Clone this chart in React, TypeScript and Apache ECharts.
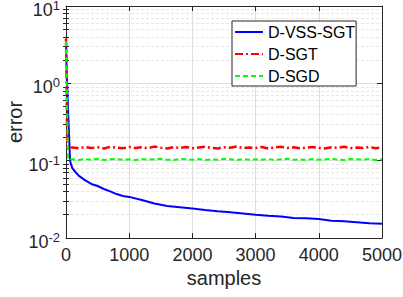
import React, { useEffect, useRef } from "react";
import * as echarts from "echarts";

const seriesNames = ["D-VSS-SGT", "D-SGT", "D-SGD"];

const blueX = [0, 10, 30, 50, 60, 70, 100, 150, 200, 300, 400, 500, 600, 700, 800, 900, 1000, 1200, 1400, 1600, 1800, 2000, 2200, 2400, 2600, 2800, 3000, 3200, 3400, 3600, 3800, 4000, 4200, 4400, 4600, 4800, 5000];
const blueY = [3.6, 1.5, 0.5, 0.2, 0.12, 0.095, 0.08, 0.071, 0.064, 0.056, 0.05, 0.047, 0.043, 0.04, 0.037, 0.035, 0.034, 0.031, 0.028, 0.026, 0.025, 0.024, 0.023, 0.0222, 0.0215, 0.0208, 0.02, 0.0194, 0.019, 0.0182, 0.018, 0.0176, 0.0167, 0.0165, 0.016, 0.0155, 0.0153];

const tailX = [100, 200, 300, 400, 500, 600, 700, 800, 900, 1000, 1100, 1200, 1300, 1400, 1500, 1600, 1700, 1800, 1900, 2000, 2100, 2200, 2300, 2400, 2500, 2600, 2700, 2800, 2900, 3000, 3100, 3200, 3300, 3400, 3500, 3600, 3700, 3800, 3900, 4000, 4100, 4200, 4300, 4400, 4500, 4600, 4700, 4800, 4900, 5000];

const redHeadX = [0, 5, 12, 20, 50];
const redHeadY = [3.8, 2.0, 0.6, 0.15, 0.147];
const redTailY = [
  0.148, 0.145, 0.15, 0.146, 0.149, 0.144, 0.151, 0.147, 0.145, 0.15,
  0.146, 0.149, 0.145, 0.152, 0.147, 0.144, 0.149, 0.146, 0.15, 0.145,
  0.148, 0.151, 0.146, 0.144, 0.149, 0.147, 0.152, 0.145, 0.148, 0.146,
  0.15, 0.144, 0.148, 0.151, 0.146, 0.149, 0.145, 0.147, 0.15, 0.146,
  0.144, 0.149, 0.147, 0.151, 0.145, 0.148, 0.146, 0.15, 0.145, 0.148,
];

const greenHeadX = [0, 8, 20, 30, 50];
const greenHeadY = [3.5, 1.5, 0.4, 0.105, 0.104];
const greenTailY = [
  0.104, 0.102, 0.105, 0.103, 0.106, 0.102, 0.104, 0.105, 0.103, 0.104,
  0.102, 0.105, 0.103, 0.104, 0.106, 0.103, 0.102, 0.105, 0.104, 0.103,
  0.105, 0.102, 0.104, 0.103, 0.106, 0.104, 0.102, 0.105, 0.103, 0.104,
  0.103, 0.105, 0.102, 0.104, 0.106, 0.103, 0.104, 0.102, 0.105, 0.103,
  0.104, 0.106, 0.103, 0.102, 0.105, 0.104, 0.103, 0.105, 0.102, 0.104,
];

const yMinor = [0.02, 0.03, 0.04, 0.05, 0.06, 0.07, 0.08, 0.09, 0.2, 0.3, 0.4, 0.5, 0.6, 0.7, 0.8, 0.9, 2, 3, 4, 5, 6, 7, 8, 9];

const FONT = "'Liberation Sans', Arial, Helvetica, sans-serif";
const AX = "#262626";

function pairs(xs: number[], ys: number[]) {
  return xs.map((x, i) => [x, ys[i]]);
}

export default function App() {
  const ref = useRef<HTMLDivElement>(null);
  useEffect(() => {
    if (!ref.current) return;
    const chart = echarts.init(ref.current, undefined, { renderer: "svg" });
    const supLabel = (v: number) => {
      const e = Math.round(Math.log10(v));
      return `{b|10}{s|${e}}`;
    };
    const yBase = {
      type: "log" as const,
      logBase: 10,
      min: 0.01,
      max: 10,
    };
    chart.setOption({
      animation: false,
      backgroundColor: "#fff",
      grid: { left: 66, right: 21, top: 6, bottom: 59, containLabel: false, outerBoundsMode: "none" },
      legend: {
        orient: "vertical",
        left: 232,
        top: 21,
        backgroundColor: "#fff",
        borderColor: AX,
        borderWidth: 1,
        borderRadius: 0,
        padding: [2, 1, 1, 2],
        itemWidth: 28,
        itemHeight: 14,
        itemGap: 4,
        itemStyle: { color: "transparent", borderColor: "transparent", borderWidth: 0, opacity: 0 },
        textStyle: { fontSize: 16, fontFamily: FONT, color: "#000", lineHeight: 18 },
        data: seriesNames,
      },
      xAxis: [
        {
          type: "value",
          min: 0,
          max: 5000,
          interval: 1000,
          name: "samples",
          nameLocation: "middle",
          nameGap: 30,
          nameMoveOverlap: false,
          nameTextStyle: { fontSize: 20, fontFamily: FONT, color: AX },
          axisLine: { show: true, lineStyle: { color: AX, width: 1 } },
          axisTick: { show: true, inside: true, length: 5, lineStyle: { color: AX } },
          axisLabel: { fontSize: 18, fontFamily: FONT, color: AX, margin: 8, formatter: (v: number) => String(v) },
          splitLine: { show: true, lineStyle: { color: "#dedede", width: 1 } },
        },
        {
          type: "value",
          position: "top",
          min: 0,
          max: 5000,
          interval: 1000,
          axisLine: { show: true, onZero: false, lineStyle: { color: AX, width: 1 } },
          axisTick: { show: true, inside: true, length: 5, lineStyle: { color: AX } },
          axisLabel: { show: false },
          splitLine: { show: false },
        },
      ],
      yAxis: [
        {
          ...yBase,
          position: "left",
          name: "error",
          nameLocation: "middle",
          nameGap: 41,
          nameMoveOverlap: false,
          nameTextStyle: { fontSize: 20, fontFamily: FONT, color: AX },
          axisLine: { show: true, onZero: false, lineStyle: { color: AX, width: 1 } },
          axisTick: { show: true, inside: true, length: 5, lineStyle: { color: AX } },
          axisLabel: {
            formatter: supLabel,
            margin: 6,
            rich: {
              b: { fontSize: 18, fontFamily: FONT, color: AX, padding: [8, 0, 0, 0] },
              s: { fontSize: 13, fontFamily: FONT, color: AX, padding: [0, 0, 1, 0] },
            },
          },
          splitLine: { show: true, lineStyle: { color: "#dedede", width: 1 } },
        },
        {
          ...yBase,
          position: "left",
          axisLine: { show: false },
          axisTick: { show: true, inside: true, length: 3, customValues: yMinor, lineStyle: { color: AX } },
          axisLabel: { show: false },
          splitLine: { show: false },
        },
        {
          ...yBase,
          position: "right",
          axisLine: { show: true, onZero: false, lineStyle: { color: AX, width: 1 } },
          axisTick: { show: true, inside: true, length: 5, lineStyle: { color: AX } },
          axisLabel: { show: false },
          splitLine: { show: false },
        },
        {
          ...yBase,
          position: "right",
          axisLine: { show: false },
          axisTick: { show: true, inside: true, length: 3, customValues: yMinor, lineStyle: { color: AX } },
          axisLabel: { show: false },
          splitLine: { show: false },
        },
      ],
      series: [
        {
          name: seriesNames[0],
          type: "line",
          data: pairs(blueX, blueY),
          showSymbol: false,
          symbol: "none",
          lineStyle: { color: "#0000ff", width: 2 },
          itemStyle: { color: "#0000ff" },
          markLine: {
            silent: true,
            symbol: "none",
            label: { show: false },
            lineStyle: { color: "#e6e6e6", type: [3, 2], width: 1 },
            data: yMinor.map((v) => ({ yAxis: v })),
            z: 0,
          },
          z: 3,
        },
        {
          name: seriesNames[1],
          type: "line",
          data: pairs(redHeadX.concat(tailX), redHeadY.concat(redTailY)),
          showSymbol: false,
          symbol: "none",
          lineStyle: { color: "#ff0000", width: 2.5, type: [8, 3, 2, 3] },
          itemStyle: { color: "#ff0000" },
          z: 4,
        },
        {
          name: seriesNames[2],
          type: "line",
          data: pairs(greenHeadX.concat(tailX), greenHeadY.concat(greenTailY)),
          showSymbol: false,
          symbol: "none",
          lineStyle: { color: "#00ff00", width: 2, type: [5, 3] },
          itemStyle: { color: "#00ff00" },
          z: 5,
        },
      ],
    });
    return () => chart.dispose();
  }, []);
  return (
    <div
      ref={ref}
      style={{ position: "fixed", left: 0, top: 0, width: 403, height: 297 }}
    />
  );
}
